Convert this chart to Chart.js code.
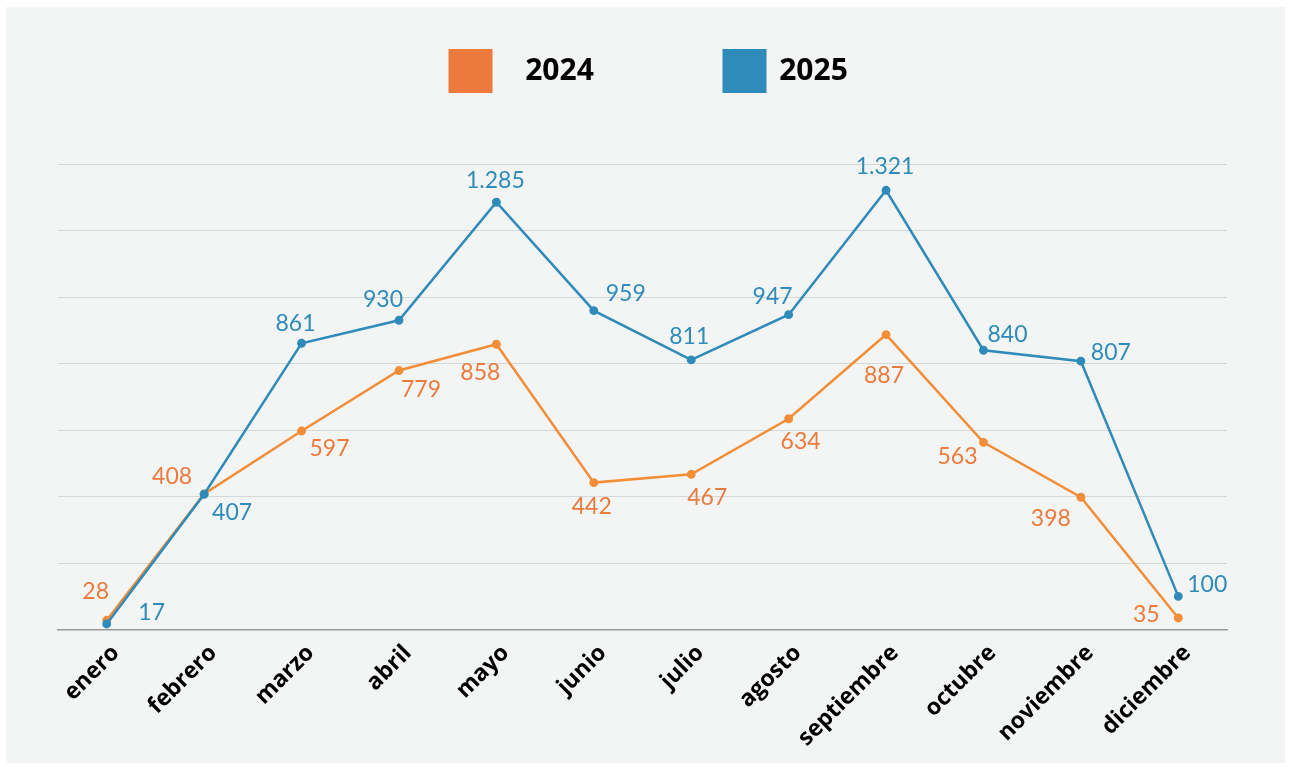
<!DOCTYPE html>
<html lang="es">
<head>
<meta charset="utf-8">
<title>2024 vs 2025</title>
<script src="https://cdn.jsdelivr.net/npm/chart.js@4.4.1/dist/chart.umd.min.js"></script>
<style>
    html, body { margin: 0; padding: 0; background: #ffffff; }
    #panel {
        position: absolute;
        left: 6px; top: 7px;
        width: 1279px; height: 756px;
        background: #f3f5f5;
    }
    #panel canvas { display: block; }
</style>
</head>
<body>
<div id="panel"><canvas id="canvaMeses" width="1279" height="756"></canvas></div>
<script>
// datos
const meses = ['enero', 'febrero', 'marzo', 'abril', 'mayo', 'junio', 'julio', 'agosto', 'septiembre', 'octubre', 'noviembre', 'diciembre'];
const valores2024 = [28, 408, 597, 779, 858, 442, 467, 634, 887, 563, 398, 35];
const valores2025 = [17, 407, 861, 930, 1285, 959, 811, 947, 1321, 840, 807, 100];
const ejeMin = 0;
const ejeMax = 1400;
const ejePaso = 200;

// donde va cada etiqueta respecto a su punto (dx, dy)
const posEtiq2024 = [[-11, -29], [-32, -17], [28, 18], [22, 19], [-16, 28], [-2, 24], [16, 23], [12, 23], [-2, 41], [-26, 14], [-30, 21], [-32, -3]];
const posEtiq2025 = [[45, -11], [28, 18], [-6, -20], [-16, -21], [-1, -22], [32, -17], [-2, -23], [-16, -18], [-1, -24], [24, -16], [30, -9], [29, -12]];

const naranja = '#ec7a3c';
const naranjaLinea = '#f28d38';
const azul = '#2e8bba';

const fuenteEtiquetas = '23px Lato';
const fuenteLeyenda = 'bold 30px "Open Sans"';

function formatoMiles(v) {
    return String(v).replace(/\B(?=(\d{3})+(?!\d))/g, '.');
}

// numeros junto a cada punto
const etiquetasPuntos = {
    id: 'etiquetasPuntos',
    afterDatasetsDraw(chart) {
        const ctx = chart.ctx;
        ctx.save();
        ctx.font = fuenteEtiquetas;
        ctx.textAlign = 'center';
        ctx.textBaseline = 'middle';
        chart.data.datasets.forEach((ds, i) => {
            const meta = chart.getDatasetMeta(i);
            meta.data.forEach((pt, j) => {
                const off = ds.posEtiquetas[j];
                ctx.fillStyle = ds.colorEtiqueta;
                ctx.fillText(formatoMiles(ds.data[j]), pt.x + off[0], pt.y + off[1]);
            });
        });
        ctx.restore();
    }
};

// leyenda propia (cuadro + año) arriba al centro
const leyendaArriba = {
    id: 'leyendaArriba',
    afterDraw(chart) {
        const ctx = chart.ctx;
        const centro = chart.width / 2;
        const cajas = [-197, 77];
        const textos = [-86, 168];
        ctx.save();
        ctx.font = fuenteLeyenda;
        ctx.textAlign = 'center';
        ctx.textBaseline = 'middle';
        chart.data.datasets.forEach((ds, i) => {
            ctx.fillStyle = ds.backgroundColor;
            ctx.fillRect(centro + cajas[i], 42, 44, 44);
            ctx.fillStyle = '#000000';
            ctx.fillText(ds.label, centro + textos[i], 64);
        });
        ctx.restore();
    }
};

function crearGrafico() {
    const canvas = document.getElementById('canvaMeses').getContext('2d');
    return new Chart(canvas, {
        type: 'line',
        data: {
            labels: meses,
            datasets: [{
                label: '2024',
                data: valores2024,
                borderColor: naranjaLinea,
                backgroundColor: naranja,
                pointBackgroundColor: naranjaLinea,
                pointBorderColor: naranjaLinea,
                colorEtiqueta: naranja,
                posEtiquetas: posEtiq2024,
                borderWidth: 2.5,
                pointRadius: 3.2,
                tension: 0,
                order: 1
            }, {
                label: '2025',
                data: valores2025,
                borderColor: azul,
                backgroundColor: azul,
                pointBackgroundColor: azul,
                pointBorderColor: azul,
                colorEtiqueta: azul,
                posEtiquetas: posEtiq2025,
                borderWidth: 2.5,
                pointRadius: 3.2,
                tension: 0,
                order: 0
            }]
        },
        options: {
            responsive: false,
            animation: false,
            layout: {
                padding: { top: 157, left: 52, right: 58, bottom: 9 }
            },
            plugins: {
                legend: { display: false },
                tooltip: { enabled: false }
            },
            scales: {
                x: {
                    offset: true,
                    grid: { display: false },
                    border: { display: true, color: '#9a9a9a', width: 1.5 },
                    ticks: {
                        color: '#000000',
                        font: { family: 'Open Sans', size: 23, weight: 'bold' },
                        minRotation: 45,
                        maxRotation: 45,
                        padding: 2,
                        labelOffset: 9,
                        autoSkip: false
                    }
                },
                y: {
                    min: ejeMin,
                    max: ejeMax,
                    ticks: { display: false, stepSize: ejePaso },
                    border: { display: false },
                    grid: { color: '#d6d8d8', lineWidth: 1, drawTicks: false }
                }
            }
        },
        plugins: [etiquetasPuntos, leyendaArriba]
    });
}

Promise.all([
    document.fonts.load(fuenteEtiquetas),
    document.fonts.load(fuenteLeyenda),
    document.fonts.load('bold 23px "Open Sans"')
]).catch(() => {}).then(() => crearGrafico());
</script>
</body>
</html>
